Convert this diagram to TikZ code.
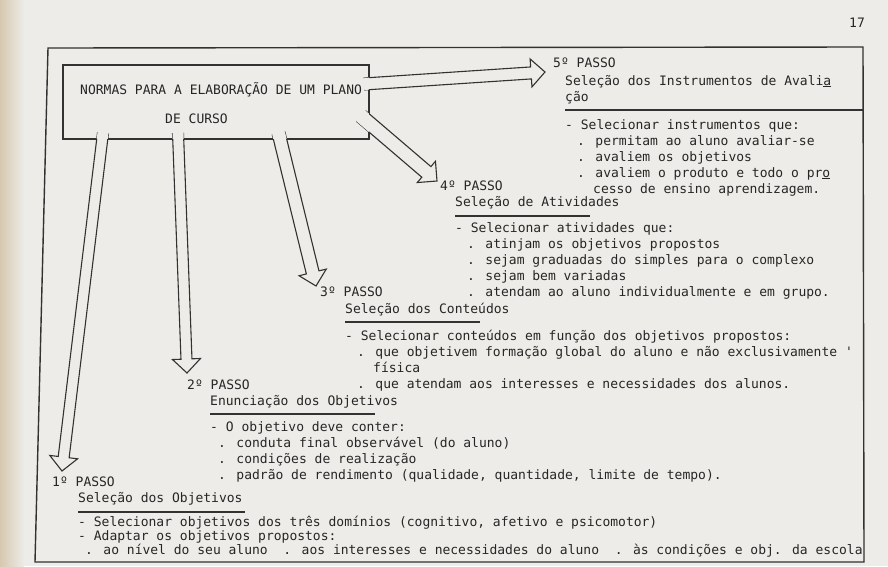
\documentclass[tikz,border=0pt]{standalone}
\usepackage{fontspec}
\newfontfamily\tipo{DejaVu Sans Mono}
\usetikzlibrary{calc}
\definecolor{papel}{RGB}{237,236,232}
\definecolor{borda}{RGB}{214,200,176}
\definecolor{tinta}{RGB}{38,38,38}
\definecolor{linha}{RGB}{50,50,50}

% seta larga que sai da caixa (normas): base, ponta, meia largura
\newcommand{\setabloco}[3]{%
  \coordinate (cab) at ($(#2)!14pt!(#1)$);
  \coordinate (sl) at ($(#1)!#3!90:(#2)$);
  \coordinate (sr) at ($(#1)!#3!-90:(#2)$);
  \coordinate (hl) at ($(cab)!#3!90:(#2)$);
  \coordinate (hr) at ($(cab)!#3!-90:(#2)$);
  \coordinate (kl) at ($(cab)!14pt!90:(#2)$);
  \coordinate (kr) at ($(cab)!14pt!-90:(#2)$);
  \fill[papel] (sl) -- (hl) -- (kl) -- (#2) -- (kr) -- (hr) -- (sr) -- cycle;
  \draw[contorno] (sl) -- (hl) -- (kl) -- (#2) -- (kr) -- (hr) -- (sr);
  \begin{scope}
    \clip ([xshift=0.7pt,yshift=-0.7pt]normas.north west) rectangle ([xshift=-0.7pt,yshift=0.7pt]normas.south east);
    \fill[papel] (sl) -- (hl) -- (kl) -- (#2) -- (kr) -- (hr) -- (sr) -- cycle;
  \end{scope}
}

\begin{document}
\begin{tikzpicture}[x=1pt,y=-1pt,
    texto/.style={anchor=base west, inner sep=0pt, align=left, text=tinta,
      font=\tipo\fontsize{13}{16}\selectfont},
    contorno/.style={draw=linha, line width=1.1pt, line join=miter},
    traco/.style={draw=linha, line width=1.1pt},
    caixa/.style={draw=linha, line width=1.2pt, fill=papel, inner sep=0pt,
      minimum width=306pt, minimum height=74pt}]
  \useasboundingbox (0,0) rectangle (888,566);
  \fill[papel] (0,0) rectangle (888,566);
  \fill[left color=borda, right color=papel] (0,0) rectangle (24,566);

  % moldura da pagina
  \draw[linha, line width=1.4pt] (48,48) -- (863,47) -- (864,562) -- (35,562) -- cycle;
  \node[texto] (pag) at (849,27) {17};

  % caixa principal
  \node[caixa] (normas) at (216,102) {};

  \coordinate (a1) at (103,133);  \coordinate (b1) at (62,471);
  \coordinate (a2) at (178,133);  \coordinate (b2) at (187,373);
  \coordinate (a3) at (278.5,133); \coordinate (b3) at (316,286);
  \coordinate (a4) at (361,116);  \coordinate (b4) at (437,181);
  \coordinate (a5) at (364,84);   \coordinate (b5) at (545,72);
  \setabloco{a1}{b1}{5.5pt}
  \setabloco{a2}{b2}{5.5pt}
  \setabloco{a3}{b3}{6.5pt}
  \setabloco{a4}{b4}{7pt}
  \setabloco{a5}{b5}{6pt}

  % (base = ultima linha do texto)
  \node[texto] (titulo) at (80,123) {NORMAS PARA A ELABORAÇÃO DE UM PLANO\\[13pt]\hspace*{85pt}DE CURSO};

  % 5o passo
  \node[texto] (p5) at (553,67) {5º PASSO};
  \node[texto] (s5) at (565,101) {Seleção dos Instrumentos de Avali\underline{a}\\ção};
  \draw[traco] (565,110) -- (863,110);
  \node[texto] (l5) at (565,193) {- Selecionar instrumentos que:\\
    \hspace*{12pt}. permitam ao aluno avaliar-se\\
    \hspace*{12pt}. avaliem os objetivos\\
    \hspace*{12pt}. avaliem o produto e todo o pr\underline{o}\\
    \hspace*{28pt}cesso de ensino aprendizagem.};

  % 4o passo
  \node[texto] (p4) at (440,190) {4º PASSO};
  \node[texto] (s4) at (455,206) {Seleção de Atividades};
  \draw[traco] (455,216) -- (590,216);
  \node[texto] (l4) at (455,296) {- Selecionar atividades que:\\
    \hspace*{12pt}. atinjam os objetivos propostos\\
    \hspace*{12pt}. sejam graduadas do simples para o complexo\\
    \hspace*{12pt}. sejam bem variadas\\
    \hspace*{12pt}. atendam ao aluno individualmente e em grupo.};

  % 3o passo
  \node[texto] (p3) at (320,296) {3º PASSO};
  \node[texto] (s3) at (345,313) {Seleção dos Conteúdos};
  \draw[traco] (345,322) -- (480,322);
  \node[texto] (l3) at (345,388) {- Selecionar conteúdos em função dos objetivos propostos:\\
    \hspace*{12pt}. que objetivem formação global do aluno e não exclusivamente '\\
    \hspace*{28pt}física\\
    \hspace*{12pt}. que atendam aos interesses e necessidades dos alunos.};

  % 2o passo
  \node[texto] (p2) at (187,389) {2º PASSO};
  \node[texto] (s2) at (210,405) {Enunciação dos Objetivos};
  \draw[traco] (210,414) -- (375,414);
  \node[texto] (l2) at (210,479) {- O objetivo deve conter:\\
    \hspace*{8pt}. conduta final observável (do aluno)\\
    \hspace*{8pt}. condições de realização\\
    \hspace*{8pt}. padrão de rendimento (qualidade, quantidade, limite de tempo).};

  % 1o passo
  \node[texto] (p1) at (52,486) {1º PASSO};
  \node[texto] (s1) at (78,502) {Seleção dos Objetivos};
  \draw[traco] (78,512) -- (245,512);
  \node[texto, font=\tipo\fontsize{13}{14}\selectfont] (l1) at (78,554) {- Selecionar objetivos dos três domínios (cognitivo, afetivo e psicomotor)\\
    - Adaptar os objetivos propostos:\\
    \hspace*{7pt}. ao nível do seu aluno\ \ . aos interesses e necessidades do aluno\ \ . às condições e obj. da escola};
\end{tikzpicture}
\end{document}
